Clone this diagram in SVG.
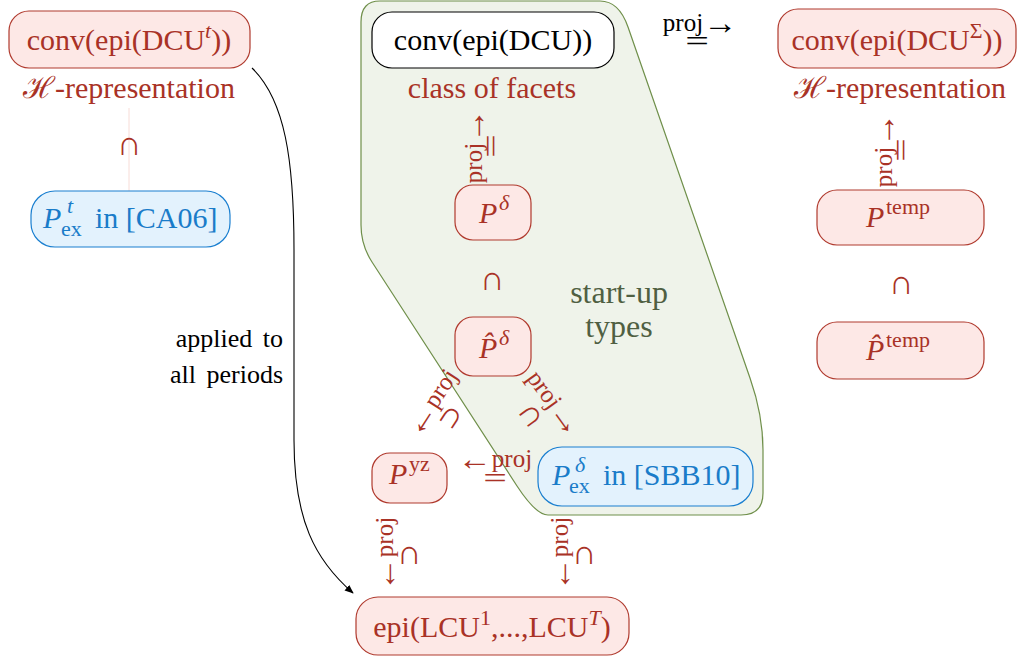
<svg xmlns="http://www.w3.org/2000/svg" width="1018" height="657" viewBox="0 0 1018 657" font-family="'Liberation Serif', 'DejaVu Serif', 'Times New Roman', serif">
<defs>
<style>
.rn{fill:#fde8e6;stroke:#b03a2e;stroke-width:1.2}
.bn{fill:#e3f2fd;stroke:#1a7fd0;stroke-width:1.2}
.wn{fill:#ffffff;stroke:#000000;stroke-width:1.2}
.m{font-size:30px}
.red{fill:#a93226}
.blue{fill:#1a7cc9}
.blk{fill:#000000}
.it{font-style:italic}
.sup{font-size:22px}
.c{text-anchor:middle}
.lt{font-size:25px;text-anchor:middle}
.ar{font-size:34px}
.eq{font-size:30px;text-anchor:middle}
.sym{font-size:34px;text-anchor:middle}
</style>
<marker id="ah" viewBox="0 0 10 10" refX="9" refY="5" markerWidth="9" markerHeight="9" markerUnits="userSpaceOnUse" orient="auto">
<path d="M0,1 L10,5 L0,9 Z" fill="#000"/>
</marker>
</defs>
<rect width="1018" height="657" fill="#ffffff"/>

<g id="startup-region">
<path d="M 380,1 H 600 Q 619,1 628,27 L 750,378 Q 763,415 763,450 V 493 Q 763,515 741,515 H 548 Q 536,515 517,486 L 372,262 Q 361,245 361,225 V 22 Q 361,1 380,1 Z" fill="#eff3ea" stroke="#6f8f4a" stroke-width="1.2"/>
<text class="c" x="619" y="303" font-size="32" fill="#4f5f42">start-up</text>
<text class="c" x="619" y="337" font-size="32" fill="#4f5f42">types</text>
</g>

<g id="connectors">
<line x1="129" y1="108" x2="129" y2="191" stroke="#f7dcd7" stroke-width="1"/>
<path d="M 252,68 C 285,100 294,160 294,250 L 294,440 C 294,520 315,560 353,593" fill="none" stroke="#000" stroke-width="1.1" marker-end="url(#ah)"/>
<text class="blk" x="283" y="347" text-anchor="end" font-size="26" word-spacing="4">applied to</text>
<text class="blk" x="283" y="383" text-anchor="end" font-size="26" word-spacing="4">all periods</text>
<text class="sym red" x="129" y="155">∩</text>
<text class="sym red" x="492" y="290">∩</text>
<text class="sym red" x="901" y="294">∩</text>
<g transform="translate(700,31)"><text class="lt blk" x="0" y="0">proj<tspan class="ar" dy="3">→</tspan></text><text class="eq blk" x="-2" y="20" transform="scale(1.4,1)">=</text></g>
<g transform="translate(482,146) rotate(-90)"><text class="lt red" x="0" y="0">proj<tspan class="ar" dy="3">→</tspan></text><text class="eq red" x="0" y="19" transform="scale(1.4,1)">=</text></g>
<g transform="translate(892,150) rotate(-90)"><text class="lt red" x="0" y="0">proj<tspan class="ar" dy="3">→</tspan></text><text class="eq red" x="0" y="19" transform="scale(1.4,1)">=</text></g>
<g transform="translate(495,467)"><text class="lt red" x="0" y="0"><tspan class="ar" dy="3">←</tspan><tspan dy="-3">proj</tspan></text><text class="eq red" x="0" y="21" transform="scale(1.4,1)">=</text></g>
<g transform="translate(438,407) rotate(-57)"><text class="lt red" x="0" y="0"><tspan class="ar" dy="3">←</tspan><tspan dy="-3">proj</tspan></text></g>
<text class="sym red" transform="translate(451,417) rotate(33)" x="0" y="9">∩</text>
<g transform="translate(548,408) rotate(54)"><text class="lt red" x="0" y="0">proj<tspan class="ar" dy="3">→</tspan></text><text class="sym red" x="-4" y="27">∩</text></g>
<g transform="translate(393,554) rotate(-90)"><text class="lt red" x="0" y="0"><tspan class="ar" dy="3">←</tspan><tspan dy="-3">proj</tspan></text></g>
<text class="sym red" x="409" y="564">∩</text>
<g transform="translate(568,554) rotate(-90)"><text class="lt red" x="0" y="0"><tspan class="ar" dy="3">←</tspan><tspan dy="-3">proj</tspan></text></g>
<text class="sym red" x="584" y="564">∩</text>
</g>

<g id="node-conv-dcu-t">
<rect class="rn" x="9" y="11" width="241" height="57" rx="20"/>
<text class="m c red" x="129" y="50">conv(epi(DCU<tspan class="sup it" dy="-12">t</tspan><tspan dy="12">))</tspan></text>
<text class="m c red" x="129" y="98">ℋ-representation</text>
</g>

<g id="node-conv-dcu">
<rect class="wn" x="372" y="12" width="242" height="56" rx="20"/>
<text class="m c blk" x="493" y="50">conv(epi(DCU))</text>
<text class="m c red" x="492" y="98">class of facets</text>
</g>

<g id="node-conv-dcu-sigma">
<rect class="rn" x="778" y="9" width="238" height="59" rx="20"/>
<text class="m c red" x="897" y="50">conv(epi(DCU<tspan class="sup" dy="-12">Σ</tspan><tspan dy="12">))</tspan></text>
<text class="m c red" x="900" y="98">ℋ-representation</text>
</g>

<g id="node-pex-t">
<rect class="bn" x="31" y="191" width="199" height="56" rx="24"/>
<text class="m it blue" x="43" y="228">P</text>
<text class="sup it blue" x="67" y="213">t</text>
<text class="sup blue" x="61" y="236">ex</text>
<text class="m blue" x="95" y="228">in [CA06]</text>
</g>

<g id="node-p-delta">
<rect class="rn" x="455" y="185" width="76" height="55" rx="18"/>
<text class="m it red" x="479" y="223">P</text>
<text class="sup it red" x="499" y="210">δ</text>
</g>

<g id="node-phat-delta">
<rect class="rn" x="455" y="317" width="76" height="59" rx="18"/>
<text class="m it red" x="479" y="358">P̂</text>
<text class="sup it red" x="499" y="345">δ</text>
</g>

<g id="node-p-temp">
<rect class="rn" x="817" y="190" width="167" height="55" rx="20"/>
<text class="m it red" x="866" y="227">P</text>
<text class="sup red" x="886" y="214">temp</text>
</g>

<g id="node-phat-temp">
<rect class="rn" x="817" y="322" width="167" height="57" rx="20"/>
<text class="m it red" x="866" y="360">P̂</text>
<text class="sup red" x="886" y="347">temp</text>
</g>

<g id="node-p-yz">
<rect class="rn" x="372" y="453" width="75" height="50" rx="18"/>
<text class="m it red" x="389" y="484">P</text>
<text class="sup red" x="409" y="471">yz</text>
</g>

<g id="node-pex-delta">
<rect class="bn" x="538" y="447" width="215" height="59" rx="24"/>
<text class="m it blue" x="552" y="485">P</text>
<text class="sup it blue" x="575" y="472">δ</text>
<text class="sup blue" x="569" y="493">ex</text>
<text class="m blue" x="603" y="485">in [SBB10]</text>
</g>

<g id="node-epi-lcu">
<rect class="rn" x="356" y="597" width="273" height="58" rx="22"/>
<text class="m c red" x="492" y="637">epi(LCU<tspan class="sup" dy="-12">1</tspan><tspan dy="12">,...,LCU</tspan><tspan class="sup it" dy="-12">T</tspan><tspan dy="12">)</tspan></text>
</g>
</svg>
